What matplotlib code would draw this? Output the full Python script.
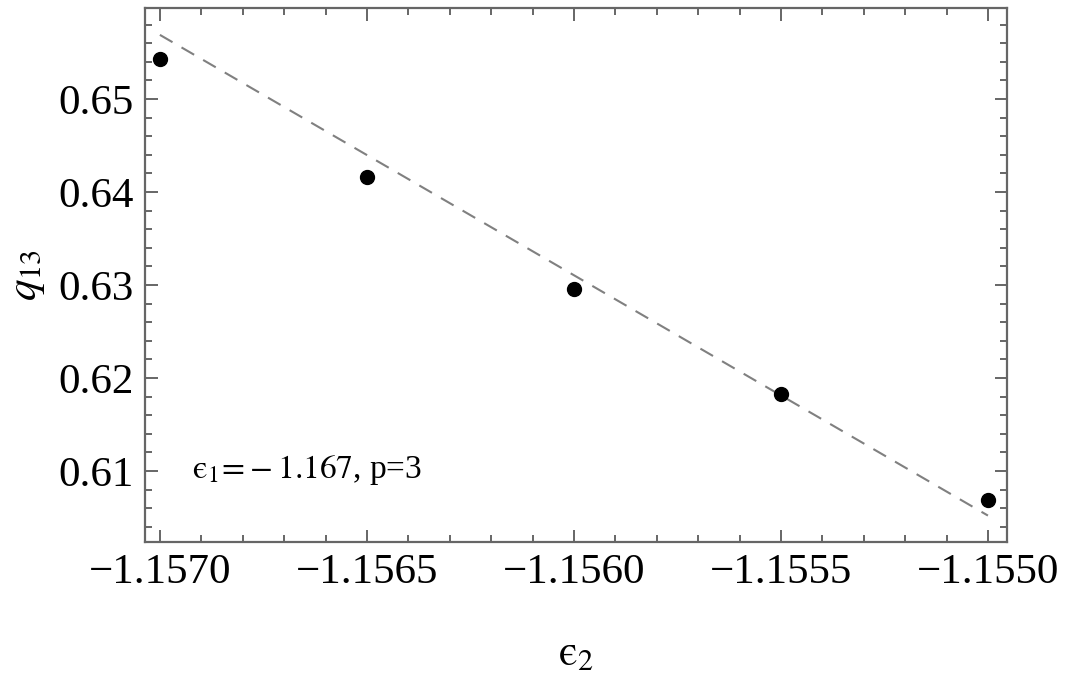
import matplotlib
matplotlib.use("Agg")
import matplotlib.pyplot as plt
from matplotlib.ticker import MultipleLocator, FuncFormatter

plt.rcParams['font.family'] = ['Liberation Serif', 'DejaVu Serif']
plt.rcParams['mathtext.fontset'] = 'stix'

# data
eps2 = [-1.1570, -1.1565, -1.1560, -1.1555, -1.1550]
q13 = [0.6543, 0.6416, 0.6296, 0.6183, 0.6069]

# dashed guide line (end points)
fit_x = [-1.1570, -1.1550]
fit_y = [0.6569, 0.6052]

frame_col = '#666666'

fig = plt.figure(figsize=(10.74, 6.74), dpi=100)
ax = fig.add_axes([0.135, 0.196, 0.8026, 0.792])

ax.plot(fit_x, fit_y, color='#808080', lw=1.5, ls=(0, (7, 5)), zorder=2)
ax.plot(eps2, q13, 'o', color='black', ms=10, zorder=3)

ax.set_xlim(-1.157036, -1.154954)
ax.set_ylim(0.60237, 0.65978)

ax.xaxis.set_major_locator(MultipleLocator(0.0005))
ax.xaxis.set_minor_locator(MultipleLocator(0.0001))
ax.yaxis.set_major_locator(MultipleLocator(0.01))
ax.yaxis.set_minor_locator(MultipleLocator(0.002))

ax.xaxis.set_major_formatter(FuncFormatter(lambda v, p: f"{v:.4f}".replace('-', '\u2212')))
ax.yaxis.set_major_formatter(FuncFormatter(lambda v, p: f"{v:.2f}"))

for s in ax.spines.values():
    s.set_color(frame_col)
    s.set_linewidth(1.6)

ax.tick_params(which='both', direction='in', top=True, right=True,
               color=frame_col, width=1.4)
ax.tick_params(which='major', length=9, labelsize=31, pad=8)
ax.tick_params(which='minor', length=5)

ax.set_xlabel(r'$\mathrm{ϵ}_2$', fontsize=31, labelpad=32)
ax.set_ylabel(r'$q_{13}$', fontsize=31, labelpad=8)

ax.text(0.055, 0.135, r'$\mathrm{ϵ}_1\!=\!-1.167$, p=3', transform=ax.transAxes,
        fontsize=24, ha='left', va='center')

fig.savefig('out.png', dpi=100)
